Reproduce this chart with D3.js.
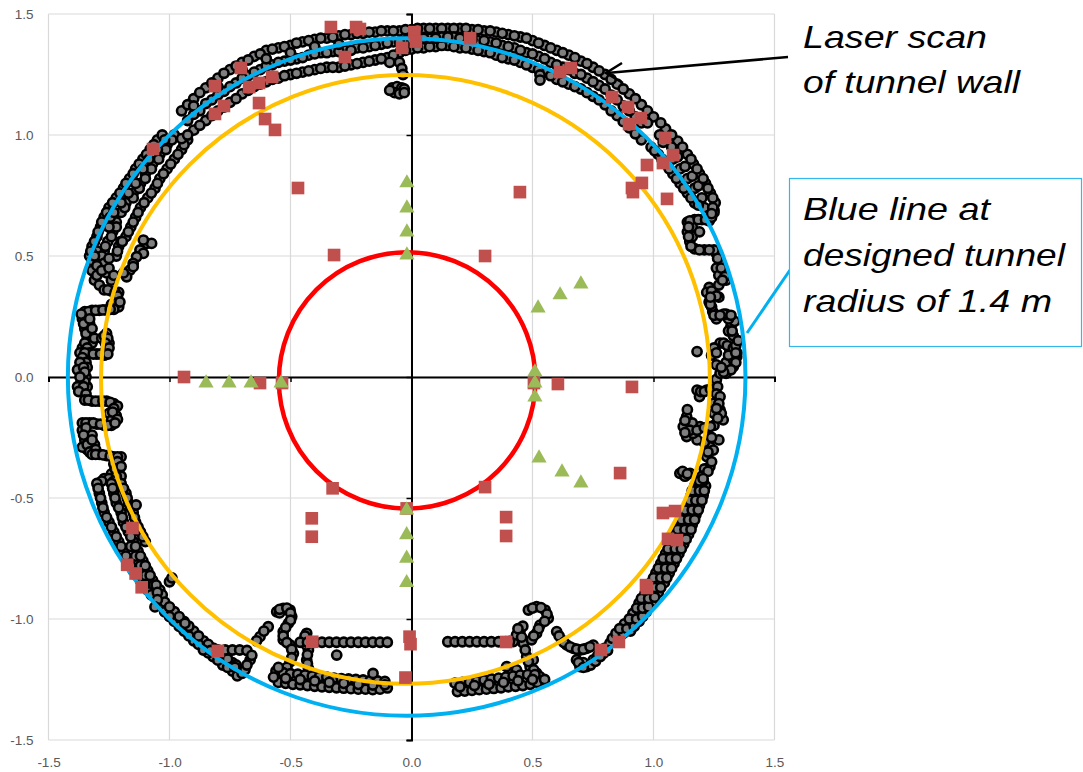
<!DOCTYPE html>
<html><head><meta charset="utf-8">
<script src="https://cdn.jsdelivr.net/npm/d3@7"></script>
<style>body{margin:0;background:#fff;} svg{display:block;}</style>
</head><body>
<svg id="chart" width="1083" height="772"></svg>
<script>
// ---------- DATA ----------
const tickValues = [-1.5, -1, -0.5, 0, 0.5, 1, 1.5];
const tickLabels = ["-1.5", "-1.0", "-0.5", "0.0", "0.5", "1.0", "1.5"];

// laser scan of tunnel wall: upper arc
const scanTop = [
[-1.33,0.50],[-1.32,0.54],[-1.30,0.58],[-1.285,0.62],[-1.27,0.66],[-1.25,0.70],[-1.22,0.74],[-1.19,0.78],[-1.165,0.82],[-1.14,0.86],[-1.11,0.90],[-1.08,0.94],[-1.05,0.98],
[-1.22,0.50],[-1.21,0.54],[-1.18,0.58],[-1.16,0.62],[-1.14,0.66],[-1.12,0.70],[-1.09,0.74],[-1.06,0.78],[-1.04,0.82],[-1.01,0.86],[-0.98,0.90],[-0.95,0.94],[-0.925,0.98],
[-1.27,0.52],[-1.255,0.56],[-1.235,0.60],[-1.22,0.64],[-1.20,0.68],[-1.18,0.72],[-1.15,0.76],[-1.12,0.80],[-1.10,0.84],[-1.07,0.88],[-1.04,0.92],[-1.01,0.96],[-0.98,1.00],
[-1.265,0.54],[-1.22,0.62],[-1.185,0.70],[-1.125,0.78],[-1.075,0.86],[-1.015,0.94],[-1.30,0.52],[-1.20,0.56],
[-1.325,0.52],[-1.31,0.56],[-1.295,0.60],[-1.28,0.64],[-1.26,0.68],[-1.235,0.72],[-1.205,0.76],[-1.18,0.80],[-1.15,0.84],[-1.125,0.88],[-1.095,0.92],[-1.065,0.96],[-1.03,1.00],
[-1.215,0.52],[-1.195,0.56],[-1.17,0.60],[-1.15,0.64],[-1.13,0.68],[-1.105,0.72],[-1.075,0.76],[-1.05,0.80],[-1.025,0.84],[-0.995,0.88],[-0.965,0.92],[-0.94,0.96],
[-1.245,0.66],[-1.15,0.74],[-1.10,0.82],[-1.045,0.90],[-0.99,0.98],[-1.24,0.58],[-1.28,0.50],
[-1.25,0.62],[-1.23,0.68],[-1.20,0.72],[-1.17,0.76],[-1.14,0.80],[-1.11,0.86],[-1.085,0.90],[-1.05,0.94],[-1.02,0.98],
[-0.95,1.10],[-0.90,1.15],[-0.85,1.195],[-0.80,1.235],[-0.75,1.27],[-0.70,1.30],[-0.65,1.325],[-0.60,1.35],[-0.55,1.36],[-0.50,1.37],[-0.45,1.385],[-0.40,1.395],[-0.35,1.40],[-0.30,1.41],[-0.25,1.415],[-0.20,1.42],[-0.15,1.425],[-0.10,1.43],[-0.05,1.43],[0.00,1.435],[0.05,1.44],[0.10,1.44],[0.15,1.44],[0.20,1.44],[0.25,1.435],[0.30,1.43],[0.35,1.425],[0.40,1.415],[0.45,1.405],[0.50,1.39],[0.55,1.37],[0.60,1.35],[0.65,1.33],[0.70,1.305],[0.75,1.28],[0.80,1.25],[0.85,1.21],[0.90,1.17],[0.95,1.125],
[-0.925,1.125],[-0.875,1.175],[-0.825,1.215],[-0.775,1.255],[-0.725,1.285],[-0.675,1.31],[-0.625,1.335],[-0.575,1.355],[-0.525,1.365],[-0.475,1.38],[-0.425,1.39],[-0.375,1.40],[-0.325,1.405],[-0.275,1.415],[-0.225,1.42],[-0.175,1.425],[-0.125,1.43],[-0.075,1.43],[-0.025,1.435],[0.025,1.44],[0.075,1.44],[0.125,1.44],[0.175,1.44],[0.225,1.44],[0.275,1.435],[0.325,1.43],[0.375,1.42],[0.425,1.41],[0.475,1.40],[0.525,1.38],[0.575,1.36],[0.625,1.34],[0.675,1.32],[0.725,1.295],[0.775,1.265],[0.825,1.23],[0.875,1.19],[0.925,1.15],[0.975,1.10],
[-0.95,0.985],[-0.90,1.02],[-0.85,1.06],[-0.80,1.10],[-0.75,1.135],[-0.70,1.17],[-0.65,1.20],[-0.60,1.22],[-0.55,1.235],[-0.50,1.25],[-0.45,1.26],[-0.40,1.27],[-0.35,1.28],[-0.30,1.28],[-0.25,1.29],[-0.20,1.30],[-0.15,1.31],[-0.10,1.32],[-0.05,1.34],[0.00,1.355],[0.05,1.36],[0.10,1.365],[0.15,1.37],[0.20,1.36],[0.25,1.355],[0.30,1.345],[0.35,1.33],[0.40,1.315],[0.45,1.30],[0.50,1.28],[0.55,1.26],[0.60,1.23],[0.65,1.21],[0.70,1.19],[0.75,1.16],[0.80,1.125],[0.85,1.08],[0.90,1.03],[0.95,0.98],
[-0.925,1.00],[-0.875,1.04],[-0.825,1.08],[-0.775,1.115],[-0.725,1.15],[-0.675,1.185],[-0.625,1.21],[-0.575,1.23],[-0.525,1.245],[-0.475,1.255],[-0.425,1.265],[-0.375,1.275],[-0.325,1.28],[-0.275,1.285],[-0.225,1.295],[-0.175,1.305],[-0.125,1.315],[-0.075,1.33],[-0.025,1.35],[0.025,1.36],[0.075,1.365],[0.125,1.37],[0.175,1.365],[0.225,1.36],[0.275,1.35],[0.325,1.34],[0.375,1.32],[0.425,1.31],[0.475,1.29],[0.525,1.27],[0.575,1.245],[0.625,1.22],[0.675,1.20],[0.725,1.175],[0.775,1.145],[0.825,1.10],[0.875,1.055],[0.925,1.005],
[-0.925,1.06],[-0.875,1.10],[-0.825,1.145],[-0.775,1.18],[-0.725,1.215],[-0.675,1.245],[-0.625,1.27],[-0.575,1.29],[-0.525,1.305],[-0.475,1.315],[-0.425,1.33],[-0.375,1.34],[-0.325,1.345],[-0.275,1.35],[-0.225,1.36],[-0.175,1.365],[-0.125,1.375],[-0.075,1.385],[-0.025,1.39],[0.025,1.40],[0.075,1.40],[0.125,1.405],[0.175,1.405],[0.225,1.40],[0.275,1.39],[0.325,1.385],[0.375,1.37],[0.425,1.36],[0.475,1.34],[0.525,1.325],[0.575,1.30],[0.625,1.28],[0.675,1.255],[0.725,1.235],[0.775,1.205],[0.825,1.165],[0.875,1.12],[0.925,1.075],
[-0.90,1.085],[-0.85,1.13],[-0.80,1.165],[-0.75,1.20],[-0.70,1.235],[-0.65,1.26],[-0.60,1.285],[-0.55,1.30],[-0.50,1.31],[-0.45,1.32],[-0.40,1.335],[-0.30,1.345],[-0.20,1.36],[0.60,1.29],[0.70,1.25],[0.80,1.19],[0.90,1.10],
[-0.35,1.34],[-0.25,1.35],[-0.15,1.37],[-0.10,1.38],[-0.05,1.385],[0.0,1.395],[0.05,1.40],[0.10,1.40],[0.15,1.405],[0.20,1.40],[0.25,1.395],[0.30,1.39],[0.35,1.38],[0.40,1.365],[0.45,1.35],[0.50,1.335],[0.55,1.315],[0.65,1.27],[0.75,1.22],[0.85,1.145],[0.95,1.05],
[-0.90,1.12],[-0.80,1.20],[-0.70,1.27],[-0.60,1.315],[-0.50,1.34],[-0.40,1.365],[-0.30,1.375],
[1.00,1.075],[1.05,1.025],[1.10,0.975],[1.14,0.92],[1.165,0.88],[1.19,0.84],[1.215,0.80],[1.235,0.76],[1.255,0.72],[1.25,0.69],
[0.99,0.95],[1.02,0.92],[1.05,0.88],[1.08,0.84],[1.11,0.80],[1.14,0.76],[1.17,0.72],
[0.975,1.05],[1.025,1.00],[1.075,0.95],[1.08,0.90],[1.11,0.86],[1.14,0.82],[1.17,0.78],[1.20,0.74],[1.21,0.70],[1.04,0.97],[1.10,0.91],[1.13,0.87],[1.16,0.83],[1.185,0.79],
[1.12,0.95],[1.155,0.90],[1.18,0.86],[1.205,0.82],[1.225,0.78],[1.245,0.74],[1.005,0.935],[1.035,0.90],[1.065,0.86],[1.095,0.82],[1.125,0.78],[1.155,0.74],[1.185,0.71],[1.03,1.05],[1.075,1.00],
[-0.05,1.30],[-0.04,1.275],[-0.035,1.25],[-0.09,1.30],
[-0.08,1.195],[-0.06,1.20],[-0.04,1.195],[-0.03,1.19],[-0.07,1.175],[-0.05,1.17],[-0.03,1.175],[-0.09,1.185],
[0.531,1.248],[0.531,1.227]
];

// laser scan: left wall steps
const scanLeft = [
[-1.32,0.48],[-1.32,0.44],[-1.31,0.40],[-1.27,0.47],[-1.26,0.43],[-1.24,0.40],[-1.29,0.38],
[-1.30,0.46],[-1.30,0.42],[-1.28,0.44],[-1.25,0.45],[-1.23,0.42],[-1.31,0.50],[-1.25,0.49],
[-1.27,0.36],[-1.24,0.355],[-1.21,0.35],[-1.255,0.36],[-1.225,0.35],
[-1.22,0.32],[-1.21,0.29],[-1.24,0.30],[-1.215,0.335],[-1.225,0.305],[-1.205,0.31],
[-1.35,0.27],[-1.32,0.275],[-1.29,0.275],[-1.26,0.277],[-1.23,0.28],[-1.335,0.27],[-1.305,0.275],[-1.275,0.277],[-1.245,0.28],
[-1.36,0.24],[-1.35,0.20],[-1.34,0.16],[-1.36,0.12],[-1.33,0.22],[-1.32,0.14],[-1.33,0.18],
[-1.365,0.26],[-1.355,0.22],[-1.345,0.18],[-1.35,0.14],[-1.34,0.12],[-1.33,0.24],[-1.32,0.20],[-1.31,0.16],
[-1.26,0.18],[-1.25,0.14],[-1.26,0.12],[-1.28,0.16],[-1.27,0.17],[-1.255,0.16],[-1.265,0.14],[-1.25,0.12],
[-1.37,0.10],[-1.33,0.10],[-1.30,0.095],[-1.27,0.09],[-1.35,0.10],[-1.315,0.095],[-1.285,0.095],[-1.255,0.095],[-1.36,0.08],[-1.345,0.06],
[-1.37,0.06],[-1.36,0.02],[-1.365,-0.02],[-1.36,-0.06],[-1.34,0.04],[-1.34,-0.04],[-1.345,0.0],[-1.38,0.03],[-1.38,-0.04],
[-1.355,0.04],[-1.35,0.02],[-1.35,-0.02],[-1.355,-0.04],[-1.375,-0.06],[-1.345,-0.07],[-1.37,0.0],
[-1.35,-0.095],[-1.32,-0.10],[-1.29,-0.10],[-1.26,-0.10],[-1.23,-0.11],[-1.335,-0.095],[-1.305,-0.10],[-1.275,-0.10],[-1.245,-0.105],[-1.215,-0.12],
[-1.23,-0.13],[-1.22,-0.16],[-1.25,-0.15],[-1.24,-0.18],[-1.235,-0.145],[-1.215,-0.175],
[-1.36,-0.19],[-1.33,-0.19],[-1.30,-0.195],[-1.27,-0.20],[-1.24,-0.20],[-1.345,-0.19],[-1.315,-0.19],[-1.285,-0.195],[-1.255,-0.20],[-1.225,-0.19],
[-1.36,-0.22],[-1.35,-0.26],[-1.34,-0.30],[-1.32,-0.24],[-1.31,-0.28],[-1.36,-0.29],
[-1.345,-0.21],[-1.355,-0.24],[-1.34,-0.28],[-1.33,-0.31],[-1.32,-0.26],[-1.305,-0.30],
[-1.32,-0.32],[-1.29,-0.32],[-1.26,-0.325],[-1.23,-0.33],[-1.20,-0.33],[-1.305,-0.32],[-1.275,-0.322],[-1.245,-0.327],[-1.215,-0.33],
[-1.23,-0.36],[-1.21,-0.39],[-1.24,-0.40],[-1.20,-0.41],[-1.27,-0.42],
[-1.215,-0.35],[-1.225,-0.38],[-1.20,-0.37],[-1.22,-0.41],[-1.25,-0.42],[-1.28,-0.43],[-1.23,-0.43],
[-1.094,0.552],[-1.074,0.552],[-1.122,0.525],[-1.108,0.511],[-1.136,0.497],[-1.150,0.469],[-1.163,0.442],[-1.177,0.414],[-1.150,0.456],[-1.108,0.566],[-1.19,0.43]
];

// laser scan: lower left arc
const scanLowerLeft = [
[-1.30,-0.44],[-1.24,-0.44],[-1.20,-0.44],
[-1.29,-0.48],[-1.23,-0.48],[-1.18,-0.48],
[-1.28,-0.52],[-1.22,-0.52],[-1.17,-0.52],
[-1.27,-0.56],[-1.20,-0.56],[-1.15,-0.56],
[-1.25,-0.60],[-1.19,-0.60],[-1.14,-0.60],
[-1.23,-0.64],[-1.17,-0.64],[-1.12,-0.64],
[-1.21,-0.68],[-1.15,-0.68],[-1.10,-0.68],
[-1.19,-0.72],[-1.13,-0.72],[-1.16,-0.70],
[-1.17,-0.76],[-1.11,-0.76],[-1.14,-0.74],
[-1.15,-0.80],[-1.09,-0.80],[-1.12,-0.78],
[-1.12,-0.84],[-1.07,-0.84],[-1.10,-0.82],
[-1.09,-0.88],[-1.04,-0.88],[-1.065,-0.86],
[-1.295,-0.46],[-1.235,-0.46],[-1.19,-0.46],[-1.285,-0.50],[-1.225,-0.50],[-1.175,-0.50],[-1.275,-0.54],[-1.21,-0.54],[-1.16,-0.54],
[-1.26,-0.58],[-1.195,-0.58],[-1.145,-0.58],[-1.24,-0.62],[-1.18,-0.62],[-1.13,-0.62],[-1.22,-0.66],[-1.16,-0.66],[-1.11,-0.66],
[-1.20,-0.70],[-1.14,-0.70],[-1.18,-0.74],[-1.12,-0.74],[-1.16,-0.78],[-1.10,-0.78],[-1.135,-0.82],[-1.08,-0.82],[-1.105,-0.86],[-1.055,-0.86],
[-1.075,-0.90],[-1.03,-0.90],[-1.05,-0.89],
[-1.02,-0.93],[-1.02,-0.97],[-1.05,-0.92],[-1.06,-0.95],
[-0.98,-0.97],[-0.98,-1.01],[-0.94,-1.01],[-0.94,-1.05],
[-0.90,-1.05],[-0.90,-1.09],[-0.86,-1.09],[-0.86,-1.12],
[-0.82,-1.12],[-0.82,-1.155],[-0.78,-1.15],[-0.78,-1.19],
[-0.74,-1.18],[-0.74,-1.215],[-0.71,-1.21],[-0.72,-1.235],
[-1.00,-0.99],[-0.96,-1.03],[-0.92,-1.07],[-0.88,-1.105],[-0.84,-1.14],[-0.80,-1.17],[-0.76,-1.20],
[-1.00,-0.95],[-0.96,-0.99],[-0.92,-1.03],[-0.88,-1.07],[-0.84,-1.105],[-0.80,-1.14],[-0.76,-1.165],[-0.725,-1.19],[-0.70,-1.225],[-0.73,-1.20],
[-1.138,-0.529],[-1.0,-0.846],[-0.99,-0.83],[-0.936,-1.018]
];

// laser scan: bottom (left of centre)
const scanBottomLeft = [
[-0.86,-1.128],[-0.83,-1.13],[-0.80,-1.128],[-0.77,-1.128],[-0.74,-1.128],[-0.71,-1.128],[-0.68,-1.13],[-0.667,-1.169],[-0.688,-1.21],
[-0.626,-1.073],[-0.592,-1.032],[-0.61,-1.05],[-0.64,-1.09],[-0.66,-1.15],[-0.68,-1.19],
[-0.557,-0.970],[-0.530,-0.956],[-0.502,-0.963],[-0.495,-0.990],[-0.509,-1.018],[-0.530,-1.052],[-0.530,-1.086],[-0.502,-1.107],[-0.488,-1.142],[-0.502,-1.177],[-0.515,-1.20],[-0.545,-0.975],
[-0.545,-0.96],[-0.515,-0.955],[-0.50,-0.975],[-0.50,-1.005],[-0.52,-1.035],[-0.53,-1.07],[-0.515,-1.097],[-0.495,-1.125],[-0.495,-1.16],
[-0.433,-1.059],[-0.440,-1.086],[-0.426,-1.128],[-0.433,-1.169],[-0.426,-1.204],[-0.44,-1.07],[-0.435,-1.107],[-0.43,-1.148],[-0.43,-1.185],
[-0.46,-1.096],[-0.43,-1.096],[-0.40,-1.096],[-0.37,-1.096],[-0.34,-1.096],[-0.31,-1.096],[-0.28,-1.096],[-0.25,-1.096],[-0.22,-1.096],[-0.19,-1.096],[-0.16,-1.096],[-0.13,-1.096],[-0.10,-1.096],
[-0.309,-1.149],
[-0.56,-1.215],[-0.53,-1.222],[-0.50,-1.226],[-0.47,-1.228],[-0.44,-1.232],[-0.41,-1.236],[-0.38,-1.238],[-0.35,-1.24],[-0.32,-1.244],[-0.29,-1.246],[-0.26,-1.248],[-0.23,-1.25],[-0.20,-1.252],[-0.17,-1.254],[-0.14,-1.256],[-0.11,-1.258],
[-0.55,-1.262],[-0.52,-1.266],[-0.49,-1.27],[-0.46,-1.272],[-0.43,-1.275],[-0.40,-1.278],[-0.37,-1.28],[-0.34,-1.282],[-0.31,-1.284],[-0.28,-1.286],[-0.25,-1.288],[-0.22,-1.29],[-0.19,-1.29],[-0.16,-1.292],[-0.13,-1.29],[-0.10,-1.285],
[-0.52,-1.245],[-0.46,-1.25],[-0.40,-1.256],[-0.34,-1.262],[-0.28,-1.266],[-0.22,-1.27],[-0.16,-1.273],[-0.11,-1.272],
[-0.159,-1.225],[-0.55,-1.20],[-0.57,-1.24]
];

// laser scan: bottom (right of centre)
const scanBottomRight = [
[0.15,-1.094],[0.18,-1.094],[0.21,-1.094],[0.24,-1.094],[0.27,-1.094],[0.30,-1.094],[0.33,-1.094],[0.36,-1.094],[0.39,-1.094],
[0.448,-1.052],[0.462,-1.100],[0.476,-1.155],[0.490,-1.197],[0.517,-1.224],[0.545,-1.252],[0.483,-0.963],[0.517,-0.949],[0.552,-0.963],[0.565,-0.997],[0.531,-1.025],[0.517,-1.059],[0.496,-1.086],[0.421,-1.093],[0.434,-1.066],[0.393,-1.197],[0.434,-1.210],[0.503,-1.169],[0.46,-1.03],
[0.50,-0.955],[0.535,-0.953],[0.56,-0.98],[0.55,-1.01],[0.525,-1.04],[0.505,-1.07],[0.455,-1.075],[0.47,-1.128],[0.483,-1.176],[0.505,-1.21],[0.53,-1.238],[0.405,-1.093],[0.44,-1.04],
[0.18,-1.265],[0.21,-1.262],[0.24,-1.26],[0.27,-1.256],[0.30,-1.252],[0.33,-1.248],[0.36,-1.244],[0.39,-1.24],[0.42,-1.236],[0.45,-1.232],[0.48,-1.23],[0.51,-1.23],
[0.19,-1.30],[0.22,-1.298],[0.25,-1.295],[0.28,-1.292],[0.31,-1.29],[0.34,-1.287],[0.37,-1.284],[0.40,-1.28],[0.43,-1.278],[0.46,-1.275],[0.49,-1.27],[0.52,-1.262],[0.55,-1.25],
[0.20,-1.28],[0.26,-1.275],[0.32,-1.27],[0.38,-1.262],[0.44,-1.255],[0.50,-1.25],
[0.600,-1.052],[0.620,-1.086],[0.641,-1.107],[0.669,-1.121],[0.696,-1.128],[0.724,-1.121],[0.751,-1.108],
[0.61,-1.07],[0.63,-1.097],[0.655,-1.115],[0.683,-1.125],[0.71,-1.125],[0.738,-1.115],
[0.682,-1.169],[0.696,-1.197],[0.724,-1.197],[0.751,-1.169],[0.793,-1.142],[0.71,-1.18],[0.74,-1.19],[0.80,-1.12],[0.82,-1.10],[0.77,-1.15],
[0.69,-1.18],[0.71,-1.20],[0.76,-1.175],[0.78,-1.155],[0.81,-1.13],[0.83,-1.08],[0.86,-1.075]
];

// laser scan: lower right arc and right wall steps
const scanRight = [
[0.845,-1.059],[0.875,-1.059],[0.905,-1.05],
[0.88,-1.02],[0.91,-1.02],[0.94,-1.01],
[0.915,-0.977],[0.944,-0.977],[0.97,-0.97],
[0.94,-0.935],[0.97,-0.935],[0.995,-0.93],
[0.965,-0.894],[0.992,-0.894],[1.02,-0.89],
[0.99,-0.85],[1.02,-0.85],[1.045,-0.85],
[1.01,-0.81],[1.04,-0.81],[1.065,-0.81],
[1.03,-0.77],[1.06,-0.77],[1.085,-0.77],
[1.05,-0.73],[1.08,-0.73],[1.105,-0.73],
[1.07,-0.69],[1.10,-0.69],[1.125,-0.69],
[1.09,-0.65],[1.12,-0.65],[1.145,-0.65],
[1.11,-0.61],[1.14,-0.61],[1.16,-0.61],
[1.12,-0.57],[1.15,-0.57],[1.175,-0.57],
[1.14,-0.53],[1.165,-0.53],[1.19,-0.53],
[1.155,-0.49],[1.18,-0.49],[1.205,-0.49],
[1.17,-0.45],[1.195,-0.45],[1.215,-0.45],
[0.86,-1.04],[0.89,-1.04],[0.92,-1.03],
[0.90,-1.00],[0.93,-1.00],[0.955,-0.99],
[0.93,-0.955],[0.955,-0.955],[0.98,-0.95],
[0.95,-0.915],[0.98,-0.915],[1.005,-0.91],
[0.975,-0.87],[1.005,-0.87],[1.03,-0.87],
[1.00,-0.83],[1.03,-0.83],[1.055,-0.83],
[1.02,-0.79],[1.05,-0.79],[1.075,-0.79],
[1.04,-0.75],[1.07,-0.75],[1.095,-0.75],
[1.06,-0.71],[1.09,-0.71],[1.115,-0.71],
[1.08,-0.67],[1.11,-0.67],[1.135,-0.67],
[1.10,-0.63],[1.13,-0.63],[1.155,-0.63],
[1.115,-0.59],[1.145,-0.59],[1.17,-0.59],
[1.13,-0.55],[1.16,-0.55],[1.185,-0.55],
[1.15,-0.51],[1.175,-0.51],[1.20,-0.51],
[1.16,-0.47],[1.19,-0.47],[1.21,-0.47],[1.18,-0.43],[1.205,-0.43],
[1.233,-0.288],[1.22,-0.329],[1.233,-0.370],[1.247,-0.302],[1.21,-0.27],[1.18,-0.26],
[1.21,-0.38],[1.20,-0.41],[1.19,-0.43],
[1.27,-0.26],[1.24,-0.25],[1.225,-0.31],[1.24,-0.35],[1.225,-0.39],[1.205,-0.42],
[1.109,-0.398],[1.151,-0.398],[1.13,-0.41],[1.12,-0.39],[1.14,-0.40],
[1.137,-0.164],[1.123,-0.205],[1.137,-0.246],[1.164,-0.233],[1.192,-0.205],[1.16,-0.19],[1.22,-0.21],[1.25,-0.20],[1.14,-0.135],
[1.13,-0.18],[1.15,-0.22],[1.18,-0.22],[1.21,-0.21],[1.235,-0.205],[1.13,-0.23],
[1.18,-0.054],[1.19,-0.081],[1.22,-0.054],[1.25,-0.03],[1.26,-0.01],
[1.195,-0.06],[1.21,-0.06],[1.235,-0.05],[1.265,-0.04],
[1.26,-0.07],[1.275,-0.081],[1.275,-0.136],[1.288,-0.177],[1.247,-0.109],[1.25,-0.15],
[1.27,-0.11],[1.28,-0.15],[1.26,-0.13],[1.265,-0.17],
[1.275,0.14],[1.316,0.11],[1.344,0.084],[1.33,0.043],[1.30,0.015],[1.275,0.015],[1.30,0.06],[1.33,0.07],[1.25,0.12],[1.24,0.09],[1.26,0.05],
[1.29,0.14],[1.305,0.13],[1.33,0.12],[1.345,0.10],[1.34,0.06],[1.32,0.03],[1.29,0.02],[1.28,0.04],[1.26,0.10],[1.31,0.09],
[1.18,0.105],
[1.32,0.21],[1.33,0.17],[1.34,0.13],[1.34,0.10],[1.31,0.19],[1.35,0.15],
[1.325,0.19],[1.335,0.23],[1.31,0.24],[1.30,0.26],
[1.29,0.26],[1.32,0.255],
[1.23,0.31],[1.245,0.27],[1.26,0.24],[1.24,0.29],[1.235,0.30],[1.25,0.255],[1.275,0.255],
[1.23,0.37],[1.25,0.34],[1.27,0.33],[1.22,0.35],[1.24,0.355],[1.26,0.335],[1.235,0.33],
[1.26,0.51],[1.275,0.47],[1.29,0.43],[1.30,0.40],[1.26,0.45],[1.27,0.42],
[1.265,0.49],[1.28,0.45],[1.295,0.415],[1.27,0.38],[1.285,0.40],
[1.14,0.64],[1.17,0.65],[1.20,0.65],[1.23,0.645],[1.14,0.60],[1.15,0.56],[1.17,0.53],[1.21,0.525],[1.25,0.525],[1.16,0.62],[1.16,0.58],
[1.15,0.645],[1.185,0.65],[1.215,0.65],[1.145,0.62],[1.145,0.58],[1.155,0.54],[1.19,0.525],[1.23,0.525],[1.19,0.60],
[1.25,0.68],[1.24,0.66],[1.245,0.70],[1.24,0.675]
];

// survey targets (squares)
const targetSquares = [
[-0.333,1.446],[-0.229,1.446],[-0.213,1.438],[-0.275,1.322],[-0.039,1.360],[0.012,1.425],[0.018,1.386],[0.242,1.40],
[-0.812,1.202],[-0.705,1.277],[-0.812,1.087],[-0.775,1.120],[-0.671,1.198],[-0.630,1.215],[-0.576,1.240],[-0.630,1.132],[-0.605,1.066],[-0.564,1.021],[-1.068,0.942],[-0.469,0.781],[-0.32,0.504],
[0.614,1.260],[0.659,1.277],[0.829,1.157],[0.895,1.116],[0.948,1.070],[0.899,1.045],[1.048,0.988],[1.081,0.917],[1.039,0.884],[0.973,0.876],[0.952,0.802],[0.911,0.781],[0.915,0.764],[1.056,0.736],[0.448,0.764],[0.304,0.500],
[0.506,-0.025],[0.605,-0.029],[0.911,-0.041],[0.862,-0.397],[0.304,-0.455],[0.391,-0.579],[0.391,-0.657],
[1.039,-0.562],[1.089,-0.554],[1.060,-0.669],[1.097,-0.674],[0.969,-0.860],[0.973,-0.872],[0.391,-1.095],[0.783,-1.128],[0.857,-1.095],
[-0.940,0.000],[-0.626,-0.025],[-0.535,-0.025],[-0.326,-0.460],[-0.412,-0.584],[-0.412,-0.660],[-1.153,-0.624],[-1.175,-0.776],[-1.140,-0.812],[-1.115,-0.869],[-0.800,-1.132],[-0.410,-1.094],
[-0.008,-1.073],[-0.004,-1.104],[-0.025,-1.242],[-0.020,-0.543]
];

// survey targets (triangles)
const targetTriangles = [
[-0.019,0.802],[-0.019,0.698],[-0.019,0.599],[-0.019,0.504],
[-0.020,-0.550],[-0.020,-0.652],[-0.020,-0.749],[-0.020,-0.850],
[-0.849,-0.025],[-0.754,-0.025],[-0.663,-0.025],[-0.539,-0.025],
[0.510,0.021],[0.510,-0.025],[0.510,-0.083],
[0.523,0.285],[0.614,0.339],[0.700,0.384],
[0.527,-0.335],[0.622,-0.393],[0.700,-0.438]
];

// reference circles
const circleNames = ["designed radius", "clearance", "inner"];
const circleCx = [-0.02, -0.025, -0.018];
const circleCy = [0.0, -0.01, -0.014];
const circleR = [1.40, 1.258, 0.53];

// ---------- STYLE ----------
const circleColors = ["#00b0f0", "#ffc000", "#ff0000"];
const circleWidths = [4, 4, 4.5];

const svg = d3.select("#chart");
const x = d3.scaleLinear().domain([-1.5, 1.5]).range([48.5, 774.5]);
const y = d3.scaleLinear().domain([-1.5, 1.5]).range([740, 14]);

// gridlines
const grid = svg.append("g");
grid.selectAll("line.v").data(tickValues).join("line")
  .attr("x1", d => x(d)).attr("x2", d => x(d))
  .attr("y1", y(-1.5)).attr("y2", y(1.5))
  .attr("stroke", "#d9d9d9").attr("stroke-width", 1.2);
grid.selectAll("line.h").data(tickValues).join("line")
  .attr("y1", d => y(d)).attr("y2", d => y(d))
  .attr("x1", x(-1.5)).attr("x2", x(1.5))
  .attr("stroke", "#d9d9d9").attr("stroke-width", 1.2);

// tick labels on the plot edges
const fmt = (d) => tickLabels[tickValues.indexOf(d)];
const leftAx = svg.append("g").attr("transform", `translate(${x(-1.5)},0)`)
  .call(d3.axisLeft(y).tickValues(tickValues).tickFormat(fmt).tickSize(0).tickPadding(15));
const botAx = svg.append("g").attr("transform", `translate(0,${y(-1.5)})`)
  .call(d3.axisBottom(x).tickValues(tickValues).tickFormat(fmt).tickSize(0).tickPadding(17));
[leftAx, botAx].forEach(g => {
  g.select(".domain").remove();
  g.selectAll("text").attr("fill", "#595959")
    .style("font-family", "'Liberation Sans', Arial, sans-serif").style("font-size", "13.5px");
});

// zero axes with tick marks
const zx = svg.append("g").attr("transform", `translate(0,${y(0)})`)
  .call(d3.axisBottom(x).tickValues(tickValues).tickFormat("").tickSize(5).tickSizeOuter(5));
const zy = svg.append("g").attr("transform", `translate(${x(0)},0)`)
  .call(d3.axisLeft(y).tickValues(tickValues).tickFormat("").tickSize(5).tickSizeOuter(5));
[zx, zy].forEach(g => {
  g.select(".domain").attr("stroke", "#000").attr("stroke-width", 2);
  g.selectAll(".tick line").attr("stroke", "#000").attr("stroke-width", 1.5);
});

// laser scan points
const scan = [].concat(scanTop, scanLeft, scanLowerLeft, scanBottomLeft, scanBottomRight, scanRight);
svg.append("g").selectAll("circle").data(scan).join("circle")
  .attr("cx", d => x(d[0])).attr("cy", d => y(d[1])).attr("r", 4.6)
  .attr("fill", "#7f7f7f").attr("stroke", "#000").attr("stroke-width", 2.6);

// reference circles
svg.append("g").selectAll("ellipse").data(circleNames).join("ellipse")
  .attr("cx", (d, i) => x(circleCx[i])).attr("cy", (d, i) => y(circleCy[i]))
  .attr("rx", (d, i) => x(circleCx[i] + circleR[i]) - x(circleCx[i]))
  .attr("ry", (d, i) => y(circleCy[i]) - y(circleCy[i] + circleR[i]))
  .attr("fill", "none").attr("stroke", (d, i) => circleColors[i]).attr("stroke-width", (d, i) => circleWidths[i]);

// squares
svg.append("g").selectAll("path").data(targetSquares).join("path")
  .attr("d", d3.symbol(d3.symbolSquare, 160))
  .attr("transform", d => `translate(${x(d[0])},${y(d[1])})`)
  .attr("fill", "#c0504d");

// triangles
svg.append("g").selectAll("path").data(targetTriangles).join("path")
  .attr("d", d3.symbol(d3.symbolTriangle, 100))
  .attr("transform", d => `translate(${x(d[0])},${y(d[1])})`)
  .attr("fill", "#9bbb59");

// annotations
const ann = svg.append("g").style("font-family", "'Liberation Sans', Arial, sans-serif")
  .style("font-style", "italic").style("font-size", "32px").attr("fill", "#000");
ann.append("line").attr("x1", 788).attr("y1", 57).attr("x2", 607).attr("y2", 73)
  .attr("stroke", "#000").attr("stroke-width", 2.5);
ann.append("path").attr("d", "M622,63 L606,73 L623,83").attr("fill", "none")
  .attr("stroke", "#000").attr("stroke-width", 2.5);
const t1 = [["Laser scan", 48, 184], ["of tunnel wall", 93, 217]];
t1.forEach(t => ann.append("text").attr("x", 803).attr("y", t[1]).attr("textLength", t[2])
  .attr("lengthAdjust", "spacingAndGlyphs").text(t[0]));

ann.append("line").attr("x1", 790).attr("y1", 270).attr("x2", 747).attr("y2", 333)
  .attr("stroke", "#00b0f0").attr("stroke-width", 3);
ann.append("rect").attr("x", 789.5).attr("y", 178.5).attr("width", 292).attr("height", 168)
  .attr("fill", "#fff").attr("stroke", "#33b8ec").attr("stroke-width", 1.2);
const t2 = [["Blue line at", 220, 187], ["designed tunnel", 266, 262], ["radius of 1.4 m", 312, 249]];
t2.forEach(t => ann.append("text").attr("x", 803).attr("y", t[1]).attr("textLength", t[2])
  .attr("lengthAdjust", "spacingAndGlyphs").text(t[0]));
</script>
</body></html>
